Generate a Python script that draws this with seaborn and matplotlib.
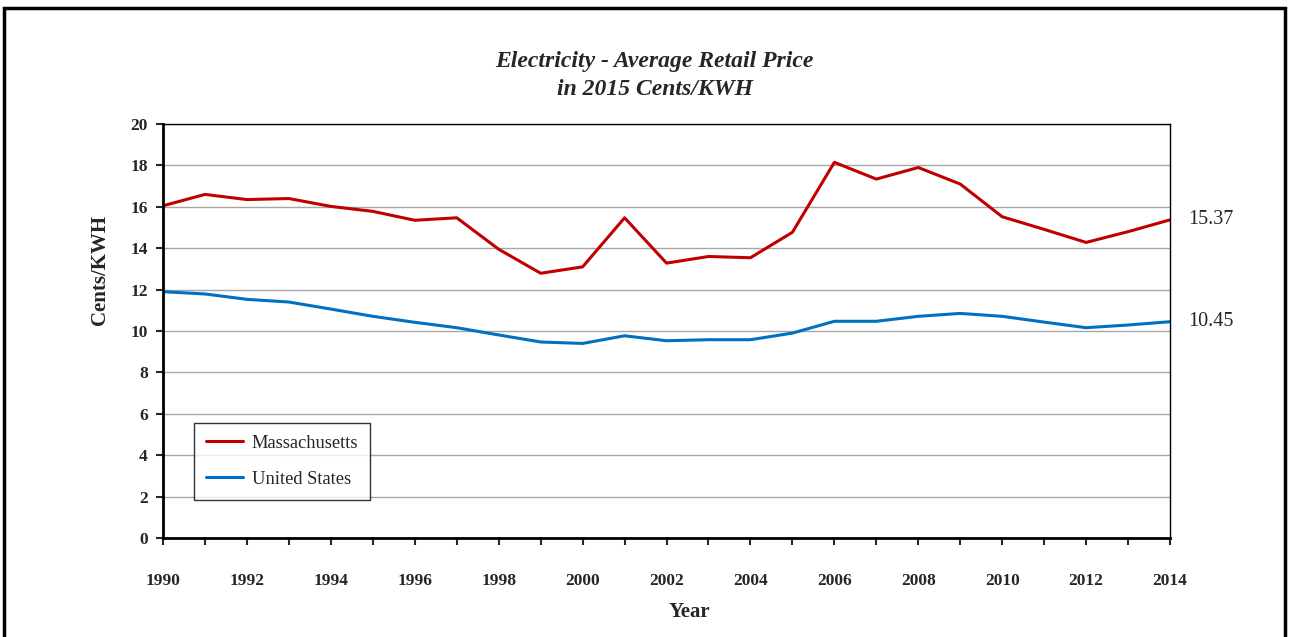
import pandas as pd
import matplotlib.pyplot as plt
import matplotlib.patches as patches
import seaborn as sns

# Dados (centavos de 2015 por KWH)
anos = list(range(1990, 2015))
massachusetts = [16.05, 16.6, 16.35, 16.4, 16.02, 15.78, 15.35, 15.47, 13.95, 12.79,
                 13.1, 15.47, 13.28, 13.6, 13.54, 14.77, 18.15, 17.34, 17.9, 17.1,
                 15.52, 14.91, 14.28, 14.8, 15.37]
estados_unidos = [11.9, 11.79, 11.53, 11.4, 11.06, 10.71, 10.42, 10.16, 9.81, 9.47,
                  9.4, 9.77, 9.53, 9.58, 9.58, 9.9, 10.47, 10.47, 10.71, 10.85,
                  10.71, 10.43, 10.16, 10.29, 10.45]
series = ['Massachusetts', 'United States']
cores = ['#C00000', '#0070C0']

df = pd.DataFrame({
    'Year': anos * 2,
    'Price': massachusetts + estados_unidos,
    'Series': [series[0]] * len(anos) + [series[1]] * len(anos),
})

sns.set_style('white')
plt.rcParams['font.family'] = ['Liberation Serif', 'DejaVu Serif']

fig = plt.figure(figsize=(12.89, 6.37), dpi=100)
ax = fig.add_axes([0.1265, 0.1554, 0.7812, 0.6499])

sns.lineplot(data=df, x='Year', y='Price', hue='Series', palette=cores,
             linewidth=2.2, ax=ax)

ax.set_xlim(1990, 2014)
ax.set_ylim(0, 20)
ax.set_yticks(range(0, 21, 2))
ax.set_xticks(anos)
ax.set_xticklabels([str(a) if a % 2 == 0 else '' for a in anos])
ax.grid(axis='y', color='#a6a6a6', linewidth=1)
ax.set_axisbelow(True)

for lado in ['left', 'bottom']:
    ax.spines[lado].set_linewidth(2)
    ax.spines[lado].set_color('black')
for lado in ['top', 'right']:
    ax.spines[lado].set_linewidth(1)
    ax.spines[lado].set_color('black')

ax.tick_params(axis='y', direction='out', length=5, width=1.5, labelsize=12.5, pad=6, left=True)
ax.tick_params(axis='x', direction='out', length=5, width=1.5, labelsize=12.5, pad=20, bottom=True)
for t in ax.get_xticklabels() + ax.get_yticklabels():
    t.set_fontweight('bold')

ax.set_xlabel('Year', fontsize=15, fontweight='bold')
ax.xaxis.label.set_va('center')
ax.xaxis.set_label_coords(0.523, -0.179)
ax.set_ylabel('Cents/KWH', fontsize=15, fontweight='bold')
ax.yaxis.label.set_va('center')
ax.yaxis.set_label_coords(-0.0626, 0.647)

fig.text(0.508, 0.903, 'Electricity - Average Retail Price', ha='center', va='center',
         fontsize=17, fontweight='bold', style='italic')
fig.text(0.508, 0.860, 'in 2015 Cents/KWH', ha='center', va='center',
         fontsize=17, fontweight='bold', style='italic')

# Rótulos dos valores finais
ax.annotate(f'{massachusetts[-1]:.2f}', xy=(anos[-1], massachusetts[-1]), xytext=(13, 0),
            textcoords='offset points', va='center', fontsize=14.5, annotation_clip=False)
ax.annotate(f'{estados_unidos[-1]:.2f}', xy=(anos[-1], estados_unidos[-1]), xytext=(13, 0),
            textcoords='offset points', va='center', fontsize=14.5, annotation_clip=False)

leg = ax.legend(loc='lower left', bbox_to_anchor=(0.031, 0.092), borderaxespad=0,
                frameon=True, fancybox=False, fontsize=13.3, handlelength=2.0,
                labelspacing=1.05, borderpad=0.65, handletextpad=0.45, title=None)
leg.get_frame().set_edgecolor('black')
leg.get_frame().set_linewidth(1)

# Moldura em volta da figura
fig.patches.append(patches.Rectangle((0.003, -0.05), 0.994, 1.037, transform=fig.transFigure,
                                     fill=False, edgecolor='black', linewidth=2.5))

fig.savefig('out.png', dpi=100)
